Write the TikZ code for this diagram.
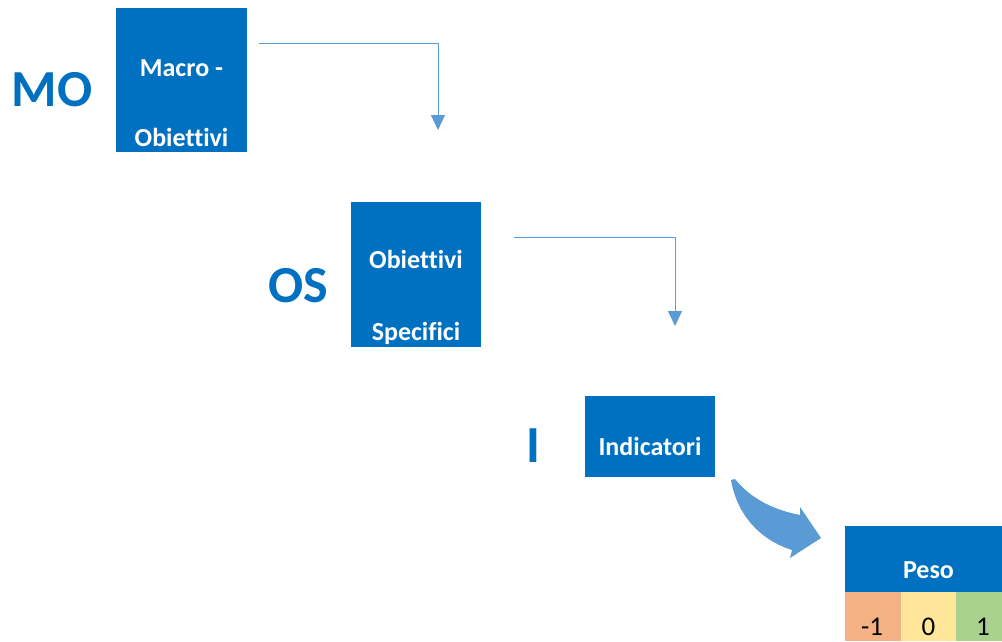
\documentclass[tikz,border=0pt]{standalone}
\usepackage{fontspec}
\setmainfont[Ligatures={NoCommon}]{Carlito}
\usetikzlibrary{arrows.meta}
\definecolor{boxblue}{HTML}{0070C0}
\definecolor{lineblue}{HTML}{5B9BD5}
\definecolor{cred}{HTML}{F4B183}
\definecolor{cyel}{HTML}{FFE699}
\definecolor{cgrn}{HTML}{A9D18E}
\tikzset{
  bluebox/.style={fill=boxblue, draw=none, inner sep=0pt},
  boxtext/.style={text=white, font=\fontsize{26}{30}\selectfont\bfseries, inner sep=0pt, anchor=base},
  biglabel/.style={text=boxblue, font=\fontsize{52}{60}\selectfont\bfseries, inner sep=0pt},
  conn/.style={draw=lineblue, line width=1pt, -{Triangle[width=14pt,length=15pt]}},
  cell/.style={draw=none, inner sep=0pt},
  celltext/.style={text=black, font=\fontsize{27}{31}\selectfont, inner sep=0pt, anchor=base}
}
\begin{document}
\begin{tikzpicture}[x=1pt,y=-1pt]
\useasboundingbox (0,0) rectangle (1002,641);
% boxes
\node[bluebox, minimum width=131pt, minimum height=144pt] (mo) at (181.5,80) {};
\node[bluebox, minimum width=130pt, minimum height=145pt] (os) at (416,274.5) {};
\node[bluebox, minimum width=130pt, minimum height=81pt] (ind) at (650,436.5) {};
% box texts
\node[boxtext] (mo1) at (181.5,76) {Macro -};
\node[boxtext] (mo2) at (181.5,146) {Obiettivi};
\node[boxtext] (os1) at (416,268) {Obiettivi};
\node[boxtext] (os2) at (416,340) {Specifici};
\node[boxtext] (ind1) at (650,455) {Indicatori};
% big labels
\node[biglabel] (lmo) at (52,90) {MO};
\node[biglabel] (los) at (298.5,286) {OS};
\node[biglabel] (li) at (533,446) {I};
% connectors
\coordinate (c1s) at (259,43);
\coordinate (c1e) at (438,130);
\coordinate (c2s) at (514,237);
\coordinate (c2e) at (675,326);
\draw[conn] (c1s) -| (c1e);
\draw[conn] (c2s) -| (c2e);
% curved block arrow
\fill[lineblue] (735,479) .. controls (752,500) and (775,510) .. (800,515)
  -- (800,507) -- (821,538) -- (790,558) -- (792,550)
  .. controls (760,540) and (737,515) .. (731,480) -- cycle;
% Peso table
\node[bluebox, minimum width=157pt, minimum height=66pt] (peso) at (923.5,559) {};
\node[boxtext] (pesot) at (928.5,578) {Peso};
\node[cell, fill=cred, minimum width=56pt, minimum height=49pt] (cm1) at (873,616.5) {};
\node[cell, fill=cyel, minimum width=55pt, minimum height=49pt] (c0) at (928.5,616.5) {};
\node[cell, fill=cgrn, minimum width=46pt, minimum height=49pt] (cp1) at (979,616.5) {};
\node[celltext] (tm1) at (872,635) {-1};
\node[celltext] (t0) at (928.5,635) {0};
\node[celltext] (tp1) at (983,635) {1};
\end{tikzpicture}
\end{document}
